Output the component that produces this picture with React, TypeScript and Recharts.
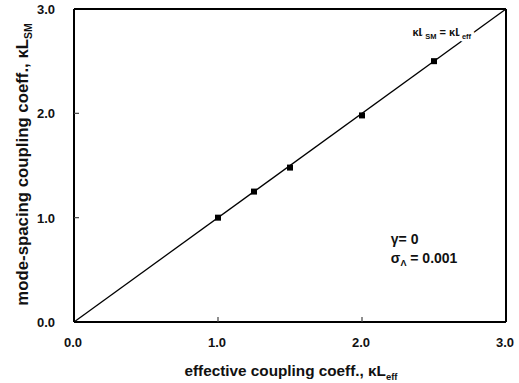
import React from 'react';
import { ScatterChart, Scatter, XAxis, YAxis, ReferenceLine, ReferenceDot, Label } from 'recharts';

// computed kL_SM against the effective coupling kL_eff
const measured = [
  { x: 1.0, y: 1.0 },
  { x: 1.25, y: 1.25 },
  { x: 1.5, y: 1.48 },
  { x: 2.0, y: 1.98 },
  { x: 2.5, y: 2.5 },
];
// kL_SM = kL_eff reference
const identity = [
  { x: 0, y: 0 },
  { x: 3, y: 3 },
];
const axisTicks = [0, 1, 2, 3];
const tickText = ['0.0', '1.0', '2.0', '3.0'];

const FONT = '"Liberation Sans", Arial, Helvetica, sans-serif';

const fmt = (v: number) => tickText[axisTicks.indexOf(v)] ?? v.toFixed(1);

const XTick = (props: any) => {
  const { x, y, payload } = props;
  const v = payload.value;
  return (
    <g>
      {v > 0 && v < 3 && <line x1={x} x2={x} y1={y} y2={y - 5} stroke="#444" strokeWidth={1.2} />}
      <text x={x - 1} y={y + 25} textAnchor="middle" fontFamily={FONT} fontWeight="bold" fontSize={13} fill="#111">
        {fmt(v)}
      </text>
    </g>
  );
};

const YTick = (props: any) => {
  const { x, y, payload } = props;
  const v = payload.value;
  return (
    <g>
      {v > 0 && v < 3 && <line x1={x} x2={x + 5} y1={y} y2={y} stroke="#444" strokeWidth={1.2} />}
      <text x={x - 19} y={y + 5} textAnchor="end" fontFamily={FONT} fontWeight="bold" fontSize={13} fill="#111">
        {fmt(v)}
      </text>
    </g>
  );
};

const Marker = (props: any) => {
  const { cx, cy } = props;
  return <rect x={cx - 3} y={cy - 3} width={6} height={6} fill="#000" />;
};

const kappaL = (sub: string, size: number) => [
  <tspan key="k">κL</tspan>,
  <tspan key="s" dy={size * 0.25} fontSize={size * 0.62}>{sub}</tspan>,
];

const XLabel = (props: any) => {
  const { viewBox } = props;
  const cx = viewBox.x + viewBox.width / 2;
  return (
    <text x={cx + 1} y={376} textAnchor="middle" fontFamily={FONT} fontWeight="bold" fontSize={15.3} fill="#111">
      effective coupling coeff., {kappaL('eff', 15.3)}
    </text>
  );
};

const YLabel = (props: any) => {
  const { viewBox } = props;
  const cy = viewBox.y + viewBox.height / 2;
  return (
    <text
      x={28}
      y={cy - 1}
      transform={`rotate(-90, 28, ${cy - 1})`}
      textAnchor="middle"
      fontFamily={FONT}
      fontWeight="bold"
      fontSize={16.8}
      fill="#111"
    >
      mode-spacing coupling coeff., {kappaL('SM', 16.8)}
    </text>
  );
};

const Note = (props: any) => {
  const { cx, cy, lines, size, halo } = props;
  return (
    <text
      x={cx}
      y={cy}
      fontFamily={FONT}
      fontWeight="bold"
      fontSize={size}
      fill="#111"
      stroke={halo ? '#fff' : 'none'}
      strokeWidth={halo ? 6 : 0}
      paintOrder="stroke"
    >
      {lines}
    </text>
  );
};

export default function App() {
  return (
    <div style={{ position: 'absolute', left: 0, top: 0, background: '#fff' }}>
      <ScatterChart width={519} height={383} margin={{ top: 9, right: 13, bottom: 0, left: 0 }}>
        <XAxis
          type="number"
          dataKey="x"
          domain={[0, 3]}
          ticks={axisTicks}
          height={61}
          tickSize={0}
          tickMargin={0}
          tick={<XTick />}
          axisLine={{ stroke: '#000', strokeWidth: 2 }}
          tickLine={false}
          allowDataOverflow
        >
          <Label content={<XLabel />} />
        </XAxis>
        <YAxis
          type="number"
          dataKey="y"
          domain={[0, 3]}
          ticks={axisTicks}
          width={74}
          tickSize={0}
          tickMargin={0}
          tick={<YTick />}
          axisLine={{ stroke: '#000', strokeWidth: 2 }}
          tickLine={false}
          allowDataOverflow
        >
          <Label content={<YLabel />} />
        </YAxis>
        <ReferenceLine x={3} stroke="#000" strokeWidth={2} />
        <ReferenceLine y={3} stroke="#000" strokeWidth={2} />
        <ReferenceLine segment={identity} stroke="#000" strokeWidth={1.3} />
        <Scatter data={measured} shape={<Marker />} isAnimationActive={false} />
        <ReferenceDot
          x={2.35}
          y={2.74}
          r={0}
          shape={(p: any) => (
            <Note
              {...p}
              size={11}
              halo
              lines={[
                <tspan key="a">κL</tspan>,
                <tspan key="b" dy={2.5} fontSize={7.5}>SM</tspan>,
                <tspan key="c" dy={-2.5}> = κL</tspan>,
                <tspan key="d" dy={2.5} fontSize={7.5}>eff</tspan>,
              ]}
            />
          )}
        />
        <ReferenceDot
          x={2.2}
          y={0.75}
          r={0}
          shape={(p: any) => <Note {...p} size={14} lines={[<tspan key="a">γ= 0</tspan>]} />}
        />
        <ReferenceDot
          x={2.2}
          y={0.565}
          r={0}
          shape={(p: any) => (
            <Note
              {...p}
              size={14}
              lines={[
                <tspan key="a">σ</tspan>,
                <tspan key="b" dy={3} fontSize={9}>Λ</tspan>,
                <tspan key="c" dy={-3}> = 0.001</tspan>,
              ]}
            />
          )}
        />
      </ScatterChart>
    </div>
  );
}
